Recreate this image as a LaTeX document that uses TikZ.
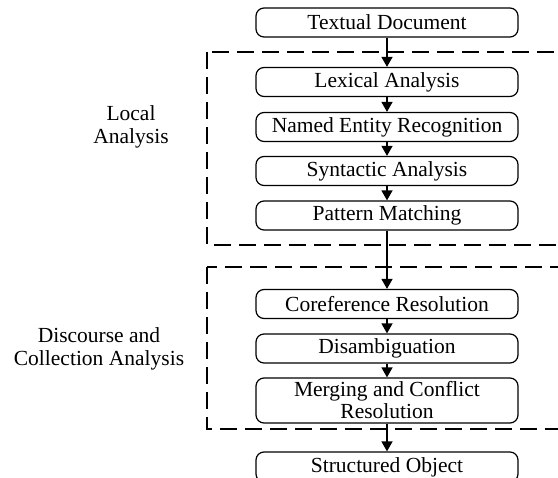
\documentclass[tikz,border=0pt]{standalone}
\usepackage{fontspec}
\setmainfont{Liberation Serif}
\usetikzlibrary{arrows.meta}
\begin{document}
\begin{tikzpicture}[x=1pt,y=-1pt,
  stage/.style={draw, line width=1.2pt, rounded corners=8pt, minimum width=262pt,
    minimum height=29pt, inner sep=0pt, align=center,
    font=\fontsize{21.5}{22}\selectfont},
  flow/.style={line width=1.5pt, -{Triangle[width=11pt,length=10pt]}},
  group/.style={draw, line width=1.5pt, dash pattern=on 17pt off 8pt},
  grouplabel/.style={align=center, font=\fontsize{21.5}{23}\selectfont}]
  \useasboundingbox (0,0) rectangle (558,478);

  % processing groups
  \draw[group] (207,52) rectangle (575,245);
  \draw[group] (207,267) rectangle (575,429);
  \node[grouplabel] (local) at (131,126.5) {Local\\Analysis};
  \node[grouplabel] (disc) at (99,348.5) {Discourse and\\Collection Analysis};

  % pipeline stages
  \node[stage] (doc)   at (387,22.5)  {Textual Document};
  \node[stage] (lex)   at (387,82)    {Lexical Analysis};
  \node[stage] (ner)   at (387,127)   {Named Entity Recognition};
  \node[stage] (syn)   at (387,171)   {Syntactic Analysis};
  \node[stage] (pat)   at (387,215.5) {Pattern Matching};
  \node[stage] (coref) at (387,304)   {Coreference Resolution};
  \node[stage] (dis)   at (387,348.5) {Disambiguation};
  \node[stage, minimum height=45pt] (merge) at (387,400.5) {Merging and Conflict\\Resolution};
  \node[stage, minimum height=30pt] (obj) at (387,467) {Structured Object};

  % connectors
  \draw[flow] (doc) -- (lex);
  \draw[flow] (lex) -- (ner);
  \draw[flow] (ner) -- (syn);
  \draw[flow] (syn) -- (pat);
  \draw[flow] (pat) -- (coref);
  \draw[flow] (coref) -- (dis);
  \draw[flow] (dis) -- (merge);
  \draw[flow] (merge) -- (obj);
\end{tikzpicture}
\end{document}
